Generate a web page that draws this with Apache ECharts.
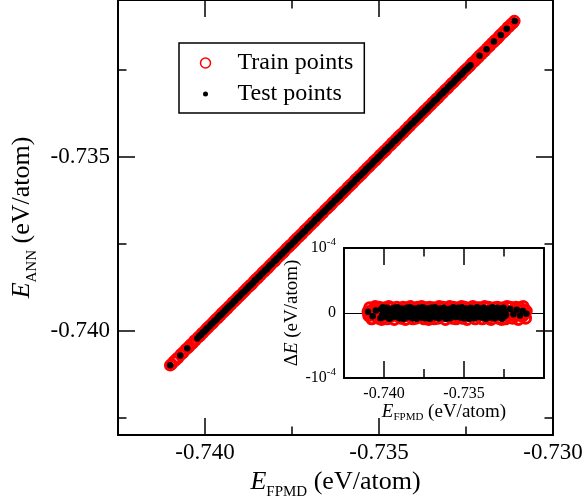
<!DOCTYPE html>
<html>
<head>
<meta charset="utf-8">
<script src="https://cdn.jsdelivr.net/npm/echarts@6/dist/echarts.min.js"></script>
<style>
html, body { margin: 0; padding: 0; background: #fff; }
#chart { width: 584px; height: 499px; }
</style>
</head>
<body>
<div id="chart"></div>
<script>
// E_FPMD of the training configurations (eV/atom)
const trainFpmd = [
  -0.74100, -0.74096, -0.74090, -0.74085, -0.74080, -0.74077, -0.74070, -0.74065, -0.74061, -0.74055,
  -0.74050, -0.74045, -0.74040, -0.74036, -0.74030, -0.74027, -0.74020, -0.74015, -0.74010, -0.74006,
  -0.74000, -0.73995, -0.73991, -0.73986, -0.73980, -0.73976, -0.73970, -0.73964, -0.73960, -0.73955,
  -0.73951, -0.73945, -0.73940, -0.73936, -0.73931, -0.73925, -0.73920, -0.73916, -0.73910, -0.73905,
  -0.73901, -0.73896, -0.73890, -0.73885, -0.73881, -0.73875, -0.73870, -0.73866, -0.73860, -0.73855,
  -0.73850, -0.73846, -0.73841, -0.73835, -0.73830, -0.73826, -0.73820, -0.73815, -0.73811, -0.73805,
  -0.73800, -0.73796, -0.73791, -0.73785, -0.73780, -0.73775, -0.73771, -0.73765, -0.73760, -0.73756,
  -0.73750, -0.73745, -0.73741, -0.73736, -0.73730, -0.73725, -0.73721, -0.73715, -0.73710, -0.73706,
  -0.73700, -0.73695, -0.73690, -0.73686, -0.73680, -0.73676, -0.73671, -0.73665, -0.73661, -0.73655,
  -0.73650, -0.73646, -0.73640, -0.73635, -0.73631, -0.73625, -0.73620, -0.73616, -0.73610, -0.73605,
  -0.73601, -0.73595, -0.73590, -0.73586, -0.73581, -0.73575, -0.73570, -0.73566, -0.73560, -0.73556,
  -0.73550, -0.73545, -0.73541, -0.73535, -0.73530, -0.73526, -0.73520, -0.73515, -0.73510, -0.73506,
  -0.73500, -0.73496, -0.73490, -0.73485, -0.73481, -0.73476, -0.73470, -0.73465, -0.73461, -0.73455,
  -0.73451, -0.73445, -0.73440, -0.73436, -0.73430, -0.73425, -0.73421, -0.73415, -0.73411, -0.73405,
  -0.73400, -0.73396, -0.73390, -0.73386, -0.73380, -0.73375, -0.73371, -0.73365, -0.73360, -0.73356,
  -0.73350, -0.73346, -0.73340, -0.73335, -0.73331, -0.73325, -0.73320, -0.73316, -0.73310, -0.73305,
  -0.73301, -0.73295, -0.73290, -0.73286, -0.73280, -0.73276, -0.73270, -0.73265, -0.73261, -0.73255,
  -0.73250, -0.73246, -0.73240, -0.73236, -0.73231, -0.73225, -0.73220, -0.73215, -0.73211, -0.73205,
  -0.73200, -0.73196, -0.73190, -0.73185, -0.73181, -0.73175, -0.73170, -0.73166, -0.73160, -0.73155,
  -0.73151, -0.73145, -0.73140, -0.73136, -0.73130, -0.73126, -0.73120, -0.73115, -0.73111
];
// E_ANN - E_FPMD for the training set (micro-eV/atom)
const trainDeltaMicro = [
  2, -4, 8, -1, 3, -9, 5, 0, -3, 10, -5, 1, 4, -8, 9, -2, 3, -10, 5, -1,
  -3, 8, -2, 4, -9, 1, 10, -4, 2, -5, 8, -1, 3, -10, 5, -3, 9, -2, 0, 4,
  5, -8, 2, -3, 9, -1, 4, -10, 3, 8, -4, 1, -5, 10, -2, 3, -9, 5, -1, 2,
  -8, 3, 9, -2, 4, -5, 1, 10, -3, 5, -9, 2, -1, 8, -4, 3, -10, 9, -2, 1,
  4, -3, 8, -9, 2, 5, -1, 3, -8, 10, -2, 4, -5, 1, 9, -3, 2, -10, 5, -4,
  3, -5, 10, -2, 1, -8, 4, 9, -3, 2, -9, 5, -1, 8, -4, 3, -2, 10, -8, 1,
  -2, 9, -4, 3, -10, 5, 1, -3, 8, -5, 2, 10, -1, 4, -9, 3, -2, 8, -4, 5,
  8, -1, 3, -9, 4, -2, 10, -5, 2, 1, -8, 9, -3, 5, -10, 2, 4, -1, 8, -3,
  -4, 2, 9, -8, 3, -1, 5, -10, 4, 8, -2, 1, -9, 3, 10, -5, 2, -3, 9, -1,
  3, -8, 1, 5, -4, 9, -2, 4, -10, 2, 8, -3, 1, -5, 10, -2, 4, -8, 3
];
// E_FPMD of the test configurations (eV/atom)
const testFpmd = [
  -0.74100, -0.74071, -0.74051, -0.74022, -0.74017, -0.74012, -0.74007, -0.74002, -0.73997, -0.73993,
  -0.73987, -0.73982, -0.73978, -0.73973, -0.73967, -0.73962, -0.73957, -0.73953, -0.73948, -0.73942,
  -0.73937, -0.73933, -0.73928, -0.73922, -0.73917, -0.73913, -0.73907, -0.73902, -0.73898, -0.73893,
  -0.73887, -0.73882, -0.73877, -0.73873, -0.73868, -0.73862, -0.73857, -0.73853, -0.73847, -0.73843,
  -0.73838, -0.73833, -0.73827, -0.73822, -0.73817, -0.73813, -0.73808, -0.73802, -0.73797, -0.73793,
  -0.73787, -0.73783, -0.73778, -0.73773, -0.73767, -0.73762, -0.73758, -0.73753, -0.73747, -0.73742,
  -0.73737, -0.73733, -0.73728, -0.73722, -0.73717, -0.73713, -0.73707, -0.73703, -0.73698, -0.73693,
  -0.73687, -0.73682, -0.73677, -0.73673, -0.73668, -0.73662, -0.73657, -0.73653, -0.73647, -0.73643,
  -0.73638, -0.73633, -0.73627, -0.73622, -0.73618, -0.73613, -0.73607, -0.73602, -0.73597, -0.73593,
  -0.73588, -0.73582, -0.73577, -0.73573, -0.73567, -0.73563, -0.73558, -0.73553, -0.73547, -0.73542,
  -0.73537, -0.73533, -0.73528, -0.73522, -0.73517, -0.73513, -0.73507, -0.73503, -0.73498, -0.73493,
  -0.73487, -0.73482, -0.73478, -0.73473, -0.73467, -0.73462, -0.73457, -0.73453, -0.73448, -0.73442,
  -0.73437, -0.73433, -0.73427, -0.73422, -0.73418, -0.73413, -0.73407, -0.73402, -0.73397, -0.73393,
  -0.73388, -0.73382, -0.73377, -0.73373, -0.73367, -0.73363, -0.73358, -0.73353, -0.73347, -0.73342,
  -0.73338, -0.73333, -0.73327, -0.73322, -0.73317, -0.73313, -0.73308, -0.73302, -0.73297, -0.73293,
  -0.73287, -0.73283, -0.73278, -0.73273, -0.73267, -0.73262, -0.73258, -0.73253, -0.73247, -0.73242,
  -0.73237, -0.73211, -0.73191, -0.73170, -0.73150, -0.73133, -0.73110
];
// E_ANN - E_FPMD for the test set (micro-eV/atom)
const testDeltaMicro = [
  2, -5, 4, -8, 6, -3, 9, -6, 1, 7,
  -4, 8, -2, 5, -9, 3, 6, -7, 2, -5,
  8, -1, 4, -6, 9, -3, 5, -8, 2, 7,
  -5, 3, -9, 6, 1, -7, 8, -2, 4, -6,
  9, -4, 2, -8, 5, 7, -3, 6, -9, 1,
  -6, 8, -2, 4, -7, 3, 9, -5, 2, -8,
  6, -1, 7, -4, 3, -9, 5, 8, -6, 2,
  -3, 9, -7, 4, -1, 6, -8, 2, 7, -5,
  3, -6, 8, -2, 5, -9, 4, 1, -7, 6,
  -8, 2, 6, -4, 9, -3, 7, -6, 1, -5,
  8, -2, 4, -7, 3, 9, -5, 2, -8, 6,
  -1, 7, -6, 3, -9, 5, 8, -4, 2, -7,
  4, -8, 6, -3, 9, -1, 5, -6, 7, -2,
  -7, 3, 8, -5, 2, -9, 6, 1, -4, 7,
  5, -7, 2, 9, -3, 6, -8, 4, -2, 8,
  -6, 1, 7, -4, 5, -9, 3, 8, -5, 2,
  -3, 6, -2, 5, -4, 3, -1
];

// axis ticks and labels
const xMajorTicks = [-0.740, -0.735, -0.730];
const xMinorTicks = [-0.7425, -0.7375, -0.7325];
const xTickLabels = [-0.740, -0.735, -0.730];
const yMajorTicks = [-0.740, -0.735];
const yMinorTicks = [-0.7425, -0.7375, -0.7325];
const yTickLabels = [-0.740, -0.735];
const insetXMajorTicks = [-0.740, -0.735, -0.730];
const insetXMinorTicks = [-0.7375, -0.7325];
const insetXTickLabels = [-0.740, -0.735];
const insetYTickLabels = ['{n|-10}{s|-4}', '{n|0}', '{n|10}{s|-4}'];

const FONT = '"Liberation Serif", "Times New Roman", serif';
const BLACK = '#000';
const RED = '#ff0000';

const toPairs = (xs, dMicro) => xs.map((x, i) => [x, x + (dMicro[i] || 0) * 1e-6]);
const toDelta = (xs, dMicro) => xs.map((x, i) => [x, (dMicro[i] || 0) * 1e-6]);

const axisBase = (grid, pos, min, max, ticks, len, showLine) => ({
  type: 'value',
  gridIndex: grid,
  position: pos,
  min: min,
  max: max,
  axisLine: { show: showLine, onZero: false, lineStyle: { color: BLACK, width: 2 } },
  axisTick: { show: true, inside: true, length: len, customValues: ticks, lineStyle: { color: BLACK, width: 1.5 } },
  axisLabel: { show: false },
  splitLine: { show: false },
  axisPointer: { show: false }
});

const nameRich = (big, small, subPad) => ({
  i: { fontFamily: FONT, fontStyle: 'italic', fontSize: big, color: BLACK },
  t: { fontFamily: FONT, fontSize: big, color: BLACK },
  s: { fontFamily: FONT, fontSize: small, color: BLACK, padding: [subPad, 0, 0, 0] }
});

// main panel axes
const mainX = axisBase(0, 'bottom', -0.7425, -0.730, xMajorTicks, 17, true);
mainX.axisLabel = {
  show: true, customValues: xTickLabels, margin: 6,
  fontFamily: FONT, fontSize: 23, color: BLACK,
  formatter: v => v.toFixed(3)
};
mainX.name = '{i|E}{s|FPMD}{t| (eV/atom)}';
mainX.nameLocation = 'middle';
mainX.nameGap = 27;
mainX.nameTextStyle = { rich: nameRich(26, 15, 20) };

const mainY = axisBase(0, 'left', -0.743, -0.7305, yMajorTicks, 17, true);
mainY.axisLabel = {
  show: true, customValues: yTickLabels, margin: 8,
  fontFamily: FONT, fontSize: 23, color: BLACK,
  formatter: v => v.toFixed(3)
};
mainY.name = '{i|E}{s|ANN}{t| (eV/atom)}';
mainY.nameLocation = 'middle';
mainY.nameRotate = 90;
mainY.nameGap = 78;
mainY.nameTextStyle = { rich: nameRich(26, 15, 20) };

// inset axes
const insetX = axisBase(1, 'bottom', -0.7425, -0.730, insetXMajorTicks, 17, true);
insetX.axisLabel = {
  show: true, customValues: insetXTickLabels, margin: 8,
  fontFamily: FONT, fontSize: 16, color: BLACK,
  formatter: v => v.toFixed(3)
};
insetX.name = '{i|E}{s|FPMD}{t| (eV/atom)}';
insetX.nameLocation = 'middle';
insetX.nameGap = 23;
insetX.nameTextStyle = { rich: nameRich(19, 11, 10) };

const insetY = {
  type: 'value',
  gridIndex: 1,
  position: 'left',
  min: -1e-4,
  max: 1e-4,
  interval: 1e-4,
  axisLine: { show: true, onZero: false, lineStyle: { color: BLACK, width: 2 } },
  axisTick: { show: false },
  splitLine: { show: true, lineStyle: { color: BLACK, width: 1.2 } },
  axisPointer: { show: false },
  axisLabel: {
    show: true, margin: 8,
    formatter: v => insetYTickLabels[Math.round(v * 1e4) + 1],
    rich: {
      n: { fontFamily: FONT, fontSize: 16, color: BLACK, lineHeight: 22 },
      s: { fontFamily: FONT, fontSize: 11, color: BLACK, lineHeight: 11, verticalAlign: 'top' }
    }
  },
  name: '{t|Δ}{i|E}{t| (eV/atom)}',
  nameLocation: 'middle',
  nameRotate: 90,
  nameGap: 37,
  nameTextStyle: { rich: nameRich(19, 11, 0) }
};

const option = {
  animation: false,
  backgroundColor: '#fff',
  textStyle: { fontFamily: FONT, color: BLACK },
  grid: [
    { left: 118, top: 0, width: 435, height: 435, outerBoundsMode: 'none', containLabel: false },
    { left: 344, top: 248, width: 200, height: 130, outerBoundsMode: 'none', containLabel: false,
      show: true, backgroundColor: '#fff', borderWidth: 0 }
  ],
  legend: {
    orient: 'vertical',
    left: 179,
    top: 43,
    padding: [8, 11, 7, 19],
    itemWidth: 54,
    itemHeight: 10,
    itemGap: 7,
    icon: 'circle',
    borderColor: BLACK,
    borderWidth: 1.5,
    selectedMode: false,
    textStyle: { fontFamily: FONT, fontSize: 24, color: BLACK, lineHeight: 24 },
    data: [
      { name: 'Train points', itemStyle: { color: 'rgba(0,0,0,0)', borderColor: RED, borderWidth: 1.5 } },
      { name: 'Test points', itemStyle: { color: BLACK, borderColor: '#fff', borderWidth: 5 } }
    ]
  },
  xAxis: [
    mainX,
    axisBase(0, 'bottom', -0.7425, -0.730, xMinorTicks, 8.5, false),
    axisBase(0, 'top', -0.7425, -0.730, xMajorTicks, 17, true),
    axisBase(0, 'top', -0.7425, -0.730, xMinorTicks, 8.5, false),
    insetX,
    axisBase(1, 'bottom', -0.7425, -0.730, insetXMinorTicks, 9, false),
    axisBase(1, 'top', -0.7425, -0.730, insetXMajorTicks, 17, true),
    axisBase(1, 'top', -0.7425, -0.730, insetXMinorTicks, 8.5, false)
  ],
  yAxis: [
    mainY,
    axisBase(0, 'left', -0.743, -0.7305, yMinorTicks, 8.5, false),
    axisBase(0, 'right', -0.743, -0.7305, yMajorTicks, 17, true),
    axisBase(0, 'right', -0.743, -0.7305, yMinorTicks, 8.5, false),
    insetY,
    {
      type: 'value', gridIndex: 1, position: 'right', min: -1e-4, max: 1e-4,
      axisLine: { show: true, onZero: false, lineStyle: { color: BLACK, width: 2 } },
      axisTick: { show: false }, axisLabel: { show: false }, splitLine: { show: false }
    }
  ],
  series: [
    {
      name: 'Train points', type: 'scatter', xAxisIndex: 0, yAxisIndex: 0,
      symbol: 'circle', symbolSize: 10,
      itemStyle: { color: 'rgba(0,0,0,0)', borderColor: RED, borderWidth: 2.5, opacity: 1 },
      emphasis: { disabled: true },
      data: toPairs(trainFpmd, trainDeltaMicro)
    },
    {
      name: 'Test points', type: 'scatter', xAxisIndex: 0, yAxisIndex: 0,
      symbol: 'circle', symbolSize: 6.5,
      itemStyle: { color: BLACK, opacity: 1 },
      emphasis: { disabled: true },
      data: toPairs(testFpmd, testDeltaMicro)
    },
    {
      name: 'Train points', type: 'scatter', xAxisIndex: 4, yAxisIndex: 4,
      symbol: 'circle', symbolSize: 10, z: 3,
      itemStyle: { color: 'rgba(0,0,0,0)', borderColor: RED, borderWidth: 3, opacity: 1 },
      emphasis: { disabled: true },
      data: toDelta(trainFpmd, trainDeltaMicro)
    },
    {
      name: 'Test points', type: 'scatter', xAxisIndex: 4, yAxisIndex: 4,
      symbol: 'circle', symbolSize: 6.5, z: 4,
      itemStyle: { color: BLACK, opacity: 1 },
      emphasis: { disabled: true },
      data: toDelta(testFpmd, testDeltaMicro)
    }
  ]
};

const chart = echarts.init(document.getElementById('chart'), null, { renderer: 'canvas' });
chart.setOption(option);
</script>
</body>
</html>
